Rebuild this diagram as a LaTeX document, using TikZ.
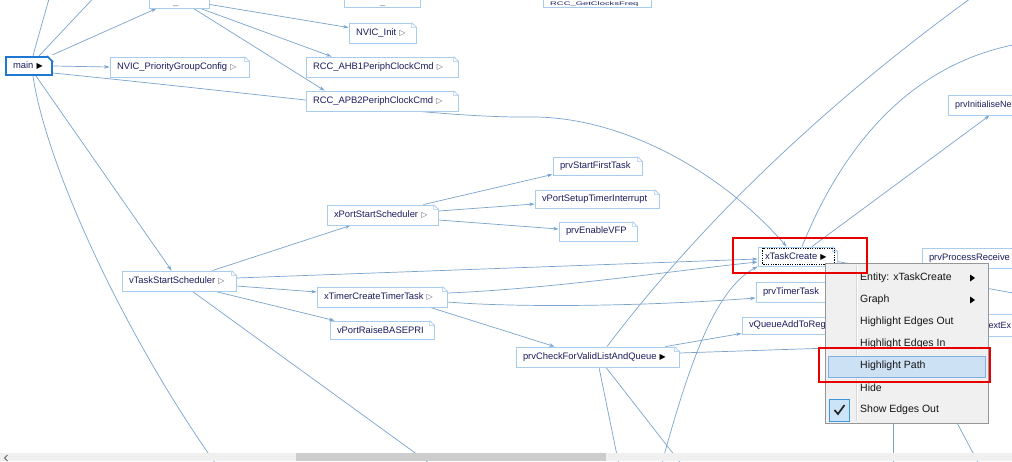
\documentclass[tikz,border=0pt]{standalone}
\usepackage{fontspec}
\usetikzlibrary{arrows.meta,calc}
\newfontfamily\ndfam{Liberation Sans}
\newfontfamily\symfam{DejaVu Sans}
\newcommand\ndfont{\ndfam\fontsize{9.4}{11}\selectfont}
\newcommand\ndsmall{\ndfam\fontsize{9.0}{11}\selectfont}
\newcommand\mnfont{\ndfam\fontsize{10.5}{12}\selectfont}
\definecolor{ec}{RGB}{122,164,206}
\definecolor{nb}{RGB}{168,204,236}
\definecolor{ntext}{RGB}{28,28,95}
\definecolor{mainbd}{RGB}{30,120,210}
\definecolor{trigray}{RGB}{100,100,115}
\definecolor{menubg}{RGB}{240,240,240}
\definecolor{menubd}{RGB}{151,151,151}
\definecolor{sepc}{RGB}{215,215,215}
\definecolor{hlfill}{RGB}{205,225,245}
\definecolor{hlbd}{RGB}{130,175,225}
\definecolor{ckfill}{RGB}{204,228,247}
\definecolor{ckbd}{RGB}{60,150,220}
\definecolor{redc}{RGB}{232,0,0}
\definecolor{sbbg}{RGB}{240,240,240}
\definecolor{sbthumb}{RGB}{205,205,205}
\definecolor{mtext}{RGB}{20,20,20}
\newcommand\otri{{\symfam\fontsize{8}{8}\selectfont\textcolor{trigray}{▷}}}
\newcommand\ftri{{\symfam\fontsize{8}{8}\selectfont\textcolor{black}{▶}}}
\newcommand\squash[1]{\scalebox{1}[0.55]{#1}}
\pgfdeclarelayer{bg}
\pgfsetlayers{bg,main}
\begin{document}
\begin{tikzpicture}[x=1pt,y=-1pt,
  fn/.style={draw=nb, fill=white, line width=0.9pt, inner xsep=7pt, inner ysep=0pt,
             minimum height=20pt, align=left, text=ntext, font=\ndfont},
  cut/.style={anchor=base west, inner sep=0pt, text=ntext, font=\ndfont},
  edge/.style={draw=ec, line width=0.7pt},
  arr/.style={edge, -{Stealth[length=5.5pt,width=3.6pt]}},
  mitem/.style={anchor=west, inner sep=0pt, font=\mnfont, text=mtext},
  redbox/.style={draw=redc, line width=2pt}]
\useasboundingbox (0,0) rectangle (1012,461);
\begin{pgfonlayer}{bg}
\fill[white] (0,0) rectangle (1012,461);
\end{pgfonlayer}

% ---------- nodes ----------
\node[fn, minimum width=60pt] (b1) at (179,-2) {};
\node[cut] (b1t) at (173,5.6) {\squash{\_}};
\node[fn, minimum width=76pt] (b2) at (382,-3) {};
\node[cut] (b2t) at (380,5.2) {\squash{\_}};
\node[fn, minimum width=108pt] (b3) at (597,-3) {};
\node[cut] (b3t) at (550,5.2) {\squash{RCC\_GetClocksFreq}};
\node[fn, draw=mainbd, line width=2pt, text width=32pt, minimum height=18pt] (main) at (29,66) {main~\ftri};
\node[fn, text width=125pt] (nvicpg) at (179.5,67) {NVIC\_PriorityGroupConfig~\otri};
\node[fn, text width=53pt] (nvicinit) at (382.5,33) {NVIC\_Init~\otri};
\node[fn, text width=138pt] (ahb1) at (382,67) {RCC\_AHB1PeriphClockCmd~\otri};
\node[fn, text width=138pt] (apb2) at (382,101) {RCC\_APB2PeriphClockCmd~\otri};
\node[fn, font=\ndsmall, text width=68pt] (prvinit) at (989,105) {prvInitialiseNe};
\node[fn, text width=75pt, minimum height=18pt] (startfirst) at (597.5,166) {prvStartFirstTask};
\node[fn, text width=110pt, minimum height=18pt] (setuptimer) at (597,199) {vPortSetupTimerInterrupt};
\node[fn, text width=64pt, minimum height=19pt] (enablevfp) at (598,231.5) {prvEnableVFP};
\node[fn, text width=97pt] (xport) at (382.5,215) {xPortStartScheduler~\otri};
\node[fn, text width=100pt] (vtss) at (179,281) {vTaskStartScheduler~\otri};
\node[fn, text width=116pt] (xtimer) at (382,297) {xTimerCreateTimerTask~\otri};
\node[fn, text width=90pt, minimum height=18pt] (raise) at (382,330) {vPortRaiseBASEPRI};
\node[fn, text width=65pt, minimum height=19pt] (xtc) at (797.5,256.5) {xTaskCreate~\ftri};
\node[fn, text width=94pt] (procrecv) at (976,258) {prvProcessReceive};
\node[fn, text width=75pt] (timertask) at (800.5,292) {prvTimerTask};
\node[fn, text width=89pt, minimum height=17pt] (vqueue) at (793.5,325.5) {vQueueAddToReg};
\node[fn, font=\ndsmall, text width=56pt, minimum height=22pt] (nextex) at (995,325) {\hspace*{21.5pt}extEx};
\node[fn, text width=149pt] (prvcheck) at (597.5,357) {prvCheckForValidListAndQueue~\ftri};

% folded corners
\foreach \n in {nvicpg,nvicinit,ahb1,apb2,startfirst,setuptimer,enablevfp,xport,vtss,xtimer,raise,xtc,prvcheck}{
  \fill[white] ([xshift=-5pt,yshift=1pt]\n.north east) -- ([xshift=1pt,yshift=1pt]\n.north east) -- ([xshift=1pt,yshift=-5pt]\n.north east) -- cycle;
  \draw[nb, line width=0.8pt] ([xshift=-5pt]\n.north east) -- ([yshift=-5pt]\n.north east);
  \draw[nb!70, line width=0.5pt] ([xshift=-5pt]\n.north east) -- ([xshift=-5pt,yshift=-5pt]\n.north east) -- ([yshift=-5pt]\n.north east);
}
\fill[white] ([xshift=-6pt,yshift=1pt]main.north east) -- ([xshift=1pt,yshift=1pt]main.north east) -- ([xshift=1pt,yshift=-6pt]main.north east) -- cycle;
\draw[mainbd, line width=1.6pt] ([xshift=-6pt]main.north east) -- ([yshift=-6pt]main.north east);

% ---------- free ends ----------
\coordinate (offA) at (101,-10);
\coordinate (offB) at (52,-12);
\coordinate (offC) at (220,470);
\coordinate (offD) at (440,471);
\coordinate (offE) at (620,470);
\coordinate (offF) at (686,470);
\coordinate (offG) at (985,-12);
\coordinate (offH) at (660,470);
\coordinate (offI) at (1030,42);
\coordinate (offJ) at (1030,296);
\coordinate (offK) at (893,470);
\coordinate (offL) at (982,470);
\coordinate (hidA) at (860,347);
\coordinate (hidB) at (893,400);
\coordinate (hidC) at (945,400);

% ---------- edges ----------
\begin{pgfonlayer}{bg}
\draw[arr] ($(main.north east)+(-3,0)$) -- ($(b1.south west)+(8,0)$);
\draw[edge] ($(main.north west)+(34,0)$) -- (offA);
\draw[edge] ($(main.north west)+(28,0)$) .. controls (40,30) and (46,10) .. (offB);
\draw[arr] (main.east) -- (nvicpg.west);
\draw[arr] ($(main.east)+(0,7)$) .. controls (300,98) and (440,118) .. (530,117)
           .. controls (620,116) and (720,170) .. ($(xtc.north west)+(29,0)$);
\draw[arr] ($(main.south west)+(31,0)$) -- ($(vtss.north west)+(50,0)$);
\draw[edge] ($(main.south west)+(28,0)$) .. controls (45,160) and (120,330) .. (offC);

\draw[arr] ($(b1.south east)+(0,-4)$) -- ($(nvicinit.north west)+(0,5)$);
\draw[arr] ($(b1.south east)+(-9,0)$) -- ($(ahb1.north west)+(26,0)$);
\draw[arr] ($(b1.south east)+(-16,0)$) -- ($(apb2.north west)+(19,0)$);

\draw[arr] ($(vtss.north east)+(-24,0)$) -- ($(xport.south west)+(24,0)$);
\draw[arr] ($(vtss.east)+(0,-3)$) -- ($(xtc.west)+(0,2.5)$);
\draw[arr] ($(vtss.east)+(0,5)$) -- ($(xtimer.west)+(0,-5)$);
\draw[arr] ($(vtss.south east)+(-21,0)$) -- ($(raise.north west)+(5,0)$);
\draw[edge] ($(vtss.south west)+(71,0)$) -- (offD);

\draw[arr] ($(xport.north east)+(-15,0)$) -- ($(startfirst.south west)+(0,-1)$);
\draw[arr] ($(xport.east)+(0,-4)$) -- ($(setuptimer.west)+(0,5)$);
\draw[arr] ($(xport.east)+(0,5)$) -- ($(enablevfp.west)+(0,-2.5)$);

\draw[arr] ($(xtimer.east)+(0,-4)$) .. controls (550,289) and (680,270) .. ($(xtc.west)+(0,5.5)$);
\draw[arr] ($(xtimer.east)+(0,5)$) .. controls (520,308) and (650,306) .. ($(timertask.west)+(0,6)$);
\draw[arr] ($(xtimer.south east)+(-17,0)$) -- ($(prvcheck.north west)+(39,0)$);

\draw[arr] ($(prvcheck.north east)+(-14,0)$) -- ($(vqueue.south west)+(0,-1)$);
\draw[edge] ($(prvcheck.east)+(0,-4)$) -- (hidA);
\draw[edge] ($(prvcheck.south)+(1.5,0)$) -- (offE);
\draw[edge] ($(prvcheck.south)+(8.5,0)$) -- (offF);
\draw[edge] ($(prvcheck.north)+(9.5,0)$) .. controls (680,250) and (800,120) .. (offG);
\draw[arr] (offH) .. controls (690,360) and (715,290) .. (xtc.south west);

\draw[edge] ($(xtc.north)+(4.5,0)$) .. controls (835,165) and (900,60) .. (offI);
\draw[arr] ($(xtc.north)+(14.5,0)$) -- ($(prvinit.south west)+(42,0)$);
\draw[edge] ($(xtc.east)+(0,5)$) -- (offJ);

\draw[edge] (hidB) -- (offK);
\draw[edge] (hidC) -- (offL);
\end{pgfonlayer}

% focus rectangle on xTaskCreate
\draw[black, line width=0.8pt, dash pattern=on 1.2pt off 1.2pt]
  ($(xtc.north west)+(5,1.5)$) rectangle ($(xtc.south east)+(-3,-2.5)$);

% ---------- context menu ----------
\node[draw=menubd, fill=menubg, line width=0.8pt, minimum width=163pt, minimum height=160pt,
      inner sep=0pt, anchor=north west] (menu) at (825,263) {};
\draw[sepc, line width=0.8pt] (856,265) -- (856,421);
\draw[white, line width=0.6pt] (857,265) -- (857,421);
\draw[fill=hlfill, draw=hlbd, line width=0.8pt] (828,356) rectangle (985,377);
\draw[fill=ckfill, draw=ckbd, line width=0.8pt] (829,399) rectangle (849,421);
\draw[black!85, line width=1.7pt] (834.5,410) -- (838,414) -- (844.5,405);
\node[mitem] (mEntity) at (860,278) {Entity: xTaskCreate};
\node[mitem] (mGraph) at (860,300) {Graph};
\node[mitem] (mOut) at (860,322) {Highlight Edges Out};
\node[mitem] (mIn) at (860,344) {Highlight Edges In};
\node[mitem] (mPath) at (860,366) {Highlight Path};
\node[mitem] (mHide) at (860,388) {Hide};
\node[mitem] (mShow) at (860,410) {Show Edges Out};
\fill[black] (970,274.5) -- (975,278) -- (970,281.5) -- cycle;
\fill[black] (970,296.5) -- (975,300) -- (970,303.5) -- cycle;

% ---------- red annotations ----------
\draw[redbox] ($(xtc.north west)+(-25,-9)$) rectangle ($(xtc.south east)+(30,7)$);
\draw[redbox] (819,348) rectangle (990,382);

% ---------- scrollbar ----------
\fill[sbbg] (0,453) rectangle (1012,461);
\fill[sbthumb] (296,453) rectangle (606,461);
\draw[black!60, line width=1pt] (7.5,455) -- (4.5,458) -- (7.5,461);
\end{tikzpicture}
\end{document}
